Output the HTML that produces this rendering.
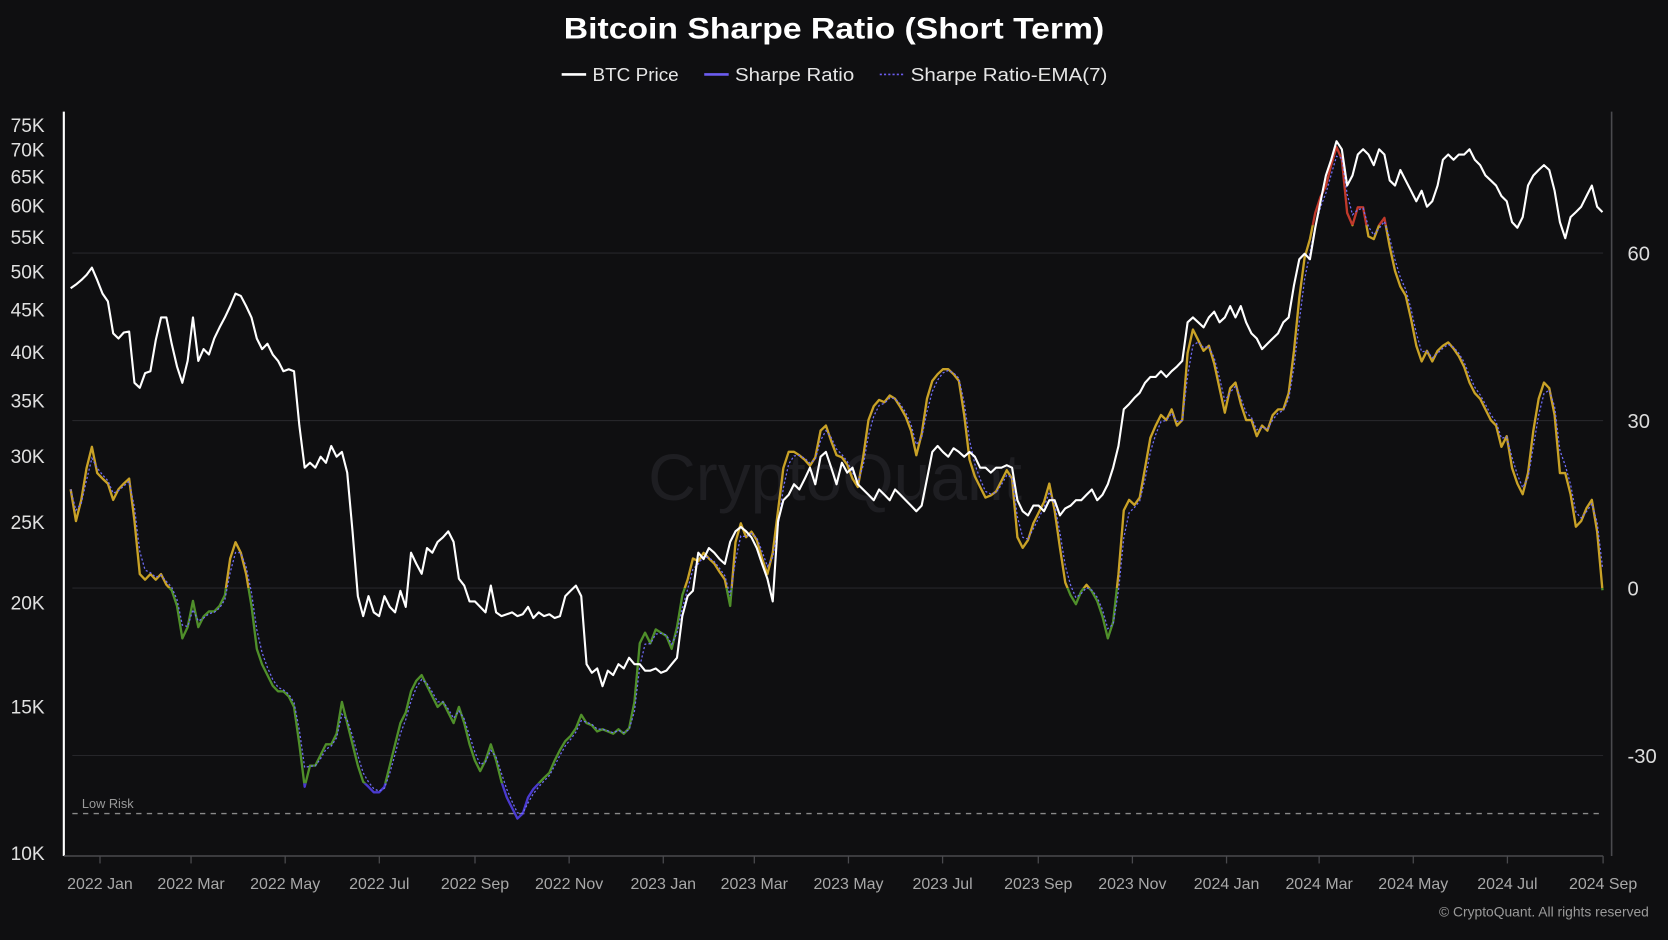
<!DOCTYPE html>
<html><head><meta charset="utf-8"><style>
html,body{margin:0;padding:0;background:#0f0f11;}
svg{display:block;}
text{font-family:"Liberation Sans",sans-serif;}
</style></head><body>
<svg id="chart" width="1668" height="940" viewBox="0 0 1568 884" preserveAspectRatio="none" xmlns="http://www.w3.org/2000/svg">
<rect x="0" y="0" width="1568" height="884" fill="#0f0f11"/>
<text x="784" y="36" text-anchor="middle" font-size="28" font-weight="bold" fill="#ffffff" textLength="508" lengthAdjust="spacingAndGlyphs">Bitcoin Sharpe Ratio (Short Term)</text>
<g font-size="17" fill="#e6e6e6">
 <g><line x1="528" y1="70" x2="551" y2="70" stroke="#fff" stroke-width="2.5"/><text x="557" y="76" textLength="81" lengthAdjust="spacingAndGlyphs">BTC Price</text></g>
 <g><line x1="662" y1="70" x2="685" y2="70" stroke="#6b5cf0" stroke-width="2.5"/><text x="691" y="76" textLength="112" lengthAdjust="spacingAndGlyphs">Sharpe Ratio</text></g>
 <g><line x1="827" y1="70" x2="850" y2="70" stroke="#6b5cf0" stroke-width="1.5" stroke-dasharray="2,2"/><text x="856" y="76" textLength="185" lengthAdjust="spacingAndGlyphs">Sharpe Ratio-EMA(7)</text></g>
</g>
<text x="785" y="470" text-anchor="middle" font-size="62" fill="#1e1e22">CryptoQuant</text>
<g id="grid"></g>
<g id="axes"></g>
<g id="series"></g>
<text x="1550" y="862" text-anchor="end" font-size="13" fill="#9a9a9a">© CryptoQuant. All rights reserved</text>
</svg>
<script>
const startDate = "2021-12-13";
const stepDays = 3.4466;
const priceK = [
47.8,48.3,48.9,49.6,50.6,48.9,47.1,46.1,42.2,41.6,42.3,42.4,36.8,36.3,37.8,38.0,41.4,44.1,44.1,41.0,
38.5,36.8,39.1,44.1,39.1,40.4,39.8,41.6,42.9,44.1,45.5,47.1,46.8,45.5,44.1,41.6,40.4,41.0,39.8,39.1,
38.0,38.2,38.0,32.7,29.1,29.5,29.1,30.0,29.5,30.9,30.0,30.4,28.7,24.4,20.4,19.3,20.4,19.5,19.3,20.4,
19.8,19.5,20.7,19.8,23.0,22.3,21.7,23.3,23.0,23.7,24.0,24.4,23.7,21.4,21.0,20.1,20.1,19.8,19.5,21.0,
19.5,19.3,19.4,19.5,19.3,19.4,19.8,19.2,19.5,19.3,19.4,19.2,19.3,20.4,20.7,21.0,20.4,16.9,16.5,16.7,
15.9,16.6,16.4,16.9,16.7,17.2,16.9,16.9,16.6,16.6,16.7,16.5,16.6,16.9,17.2,19.3,20.4,20.7,23.0,22.6,
23.3,23.0,22.6,22.3,23.7,24.4,24.7,24.4,24.0,23.3,22.3,21.4,20.1,25.1,26.6,27.0,27.8,27.4,28.2,29.1,
27.8,30.0,30.4,29.1,27.8,29.5,28.7,29.1,27.8,27.4,27.0,26.6,27.4,27.0,26.6,27.4,27.0,26.6,26.2,25.8,
26.2,28.2,30.4,30.9,30.4,30.0,30.7,30.4,30.0,30.4,30.0,29.1,29.1,28.7,29.1,29.1,29.3,29.1,26.6,25.8,
25.5,26.2,26.2,25.8,26.6,26.6,25.5,26.0,26.2,26.6,26.6,27.0,27.4,26.6,27.0,27.8,29.1,30.9,34.2,34.7,
35.3,35.8,36.8,37.4,37.4,38.0,37.4,38.0,38.5,39.1,43.5,44.1,43.5,42.9,44.1,44.8,43.5,44.1,45.5,44.1,
45.5,43.5,42.2,41.6,40.4,41.0,41.6,42.2,43.5,44.1,48.2,51.8,52.6,51.8,56.5,60.8,65.3,68.2,71.8,70.2,
63.5,65.3,69.2,70.2,69.2,67.2,70.2,69.2,64.4,63.5,66.3,64.4,62.6,60.8,62.6,59.9,60.8,63.5,68.2,69.2,
68.2,69.2,69.2,70.2,68.2,67.2,65.3,64.4,63.5,61.7,60.8,57.4,56.5,58.2,63.5,65.3,66.3,67.2,66.3,62.6,
57.4,54.9,58.2,59.0,59.9,61.7,63.5,59.9,59.0
];
const sharpe = [
17.7,12,15.8,21.5,25.3,20.6,19.6,18.7,15.8,17.7,18.7,19.6,12,2.5,1.5,2.5,1.5,2.5,0.6,-0.4,
-3.2,-9,-7,-2.3,-7,-5.1,-4.2,-4.2,-3.2,-1.3,5.3,8.2,6.3,2.5,-3.2,-10.9,-13.7,-15.6,-17.5,-18.5,
-18.5,-19.4,-21.3,-28,-35.6,-31.8,-31.8,-29.9,-28,-28,-26.1,-20.4,-24.2,-28,-31.8,-34.7,-35.6,-36.6,-36.6,-35.6,
-31.8,-28,-24.2,-22.3,-18.5,-16.6,-15.6,-17.5,-19.4,-21.3,-20.4,-22.3,-24.2,-21.3,-24.2,-28,-30.9,-32.8,-30.9,-28,
-30.9,-34.7,-37.5,-39.4,-41.3,-40.4,-37.5,-36,-35,-34,-33.1,-30.9,-29,-27.4,-26.5,-25.1,-22.7,-24.2,-24.6,-25.7,
-25.3,-25.7,-26.1,-25.3,-26.1,-25.1,-20.4,-9.9,-8,-9.9,-7.4,-8,-8.6,-10.9,-7,-1.3,1.5,5.3,4.8,6.3,
5.3,4.4,2.9,1.5,-3.2,8.2,11.6,9.1,10.1,8.6,5.3,2.5,6.3,13.9,21.5,24.4,24.4,23.8,23,21.9,
23.4,28.2,29.1,26.3,23.8,23.4,22.1,19.6,18.1,23.4,30.1,32.6,33.7,33.3,34.5,33.9,32.4,30.7,28.2,23.8,
27.6,33.9,37.1,38.3,39.2,39.2,38.3,37.1,31,23,20,18.1,16.2,16.6,17.3,19.2,21.1,19.6,9.1,7.2,
8.6,11.6,13.5,15.4,18.7,13.9,7.2,1,-1.3,-2.9,-0.6,0.6,-0.6,-2.3,-5.1,-9,-6.1,2.5,13.9,15.8,
14.9,16.2,21.5,26.9,29.1,31,30.1,32,29.1,30.1,42.1,46.3,44.4,42.5,43.4,40.2,35.8,31.4,35.8,36.8,
33,30.1,30.1,27.2,29.1,28.2,31,32,32,34.9,42.5,52,59.2,62.5,67.2,70.1,72,75.8,79,76.8,
67.2,65,68.2,68.2,63,62.5,65,66.3,61.1,56.8,54,52.4,48.2,43.4,40.6,42.5,40.6,42.5,43.4,44,
42.9,41.5,39.6,36.8,34.9,33.9,32,30.1,29.1,25.3,27.2,21.5,18.7,16.8,20.6,28.2,33.9,36.8,35.8,31,
20.6,20.6,16.8,11,12,14.3,15.8,10.1,-0.4
];
const leftTicks = [75,70,65,60,55,50,45,40,35,30,25,20,15,10];
const rightTicks = [60,30,0,-30];
const monthLabels = ["2022 Jan","2022 Mar","2022 May","2022 Jul","2022 Sep","2022 Nov","2023 Jan","2023 Mar","2023 May","2023 Jul","2023 Sep","2023 Nov","2024 Jan","2024 Mar","2024 May","2024 Jul","2024 Sep"];
const monthDates = ["2022-01-01","2022-03-01","2022-05-01","2022-07-01","2022-09-01","2022-11-01","2023-01-01","2023-03-01","2023-05-01","2023-07-01","2023-09-01","2023-11-01","2024-01-01","2024-03-01","2024-05-01","2024-07-01","2024-09-01"];
const lowRiskLevel = -40.4;

const NS="http://www.w3.org/2000/svg";
const DAY=86400000, T0=Date.parse("2022-01-01");
function xOfDate(s){return 94+(Date.parse(s)-T0)/DAY*1.4507;}
function xOfIndex(i){return xOfDate(startDate)+i*stepDays*1.4507;}
function yPrice(k){return 803-340*Math.log(k/10);}
function ySharpe(v){return 553-v*5.25;}
function mk(tag,attrs,parent){const e=document.createElementNS(NS,tag);for(const k in attrs)e.setAttribute(k,attrs[k]);parent.appendChild(e);return e;}
const grid=document.getElementById('grid'),axes=document.getElementById('axes'),series=document.getElementById('series');

rightTicks.forEach(v=>{
 const l=mk('line',{x1:68,x2:1507,y1:ySharpe(v),y2:ySharpe(v),stroke:'#26262a','stroke-width':1},grid);
 
 
 const t=mk('text',{x:1530,y:ySharpe(v)+7,'font-size':19,fill:'#dcdcdc'},axes);t.textContent=v;
 
 
});
const lr=mk('line',{x1:68,x2:1507,y1:ySharpe(lowRiskLevel),y2:ySharpe(lowRiskLevel),stroke:'#8a8a8a','stroke-width':1.2,'stroke-dasharray':'5,5'},grid);


const lrt=mk('text',{x:77,y:ySharpe(lowRiskLevel)-5,'font-size':12,fill:'#9a9a9a'},grid);lrt.textContent='Low Risk';



leftTicks.forEach(k=>{
 const t=mk('text',{x:10,y:yPrice(k)+6,'font-size':18,fill:'#e0e0e0'},axes);t.textContent=k+'K';
 
 
});
const la=mk('line',{x1:60,x2:60,y1:105,y2:805,stroke:'#ffffff','stroke-width':2},axes);


const ra=mk('line',{x1:1515,x2:1515,y1:105,y2:805,stroke:'#4a4a4e','stroke-width':1.5},axes);


const ba=mk('line',{x1:60,x2:1507,y1:805,y2:805,stroke:'#4a4a4e','stroke-width':1.5},axes);


monthDates.forEach((d,i)=>{
 const x=xOfDate(d);
 const tk=mk('line',{x1:x,x2:x,y1:805,y2:812,stroke:'#4a4a4e','stroke-width':1.2},axes);
 
 
 const t=mk('text',{x:x,y:836,'font-size':15,fill:'#a8a8a8','text-anchor':'middle'},axes);t.textContent=monthLabels[i];
 
 
});

function pathOf(arr,yf){return arr.map((v,i)=>(i?'L':'M')+xOfIndex(i).toFixed(1)+','+yf(v).toFixed(1)).join('');}

// clip bands for sharpe colouring
const defs=mk('defs',{},series);
const bands=[['clip-red',0,ySharpe(65),'#c0392b'],['clip-gold',ySharpe(65),ySharpe(0),'#c9a227'],['clip-green',ySharpe(0),ySharpe(-35),'#4f8f2a'],['clip-purple',ySharpe(-35),884,'#4a3ad0']];
bands.forEach(b=>{const c=mk('clipPath',{id:b[0]},defs);mk('rect',{x:0,y:b[1],width:1568,height:b[2]-b[1]},c);});
const sd=pathOf(sharpe,ySharpe);
bands.forEach(b=>{
 const p=mk('path',{d:sd,fill:'none',stroke:b[3],'stroke-width':2.2,'stroke-linejoin':'round','clip-path':'url(#'+b[0]+')'},series);
 
 
});
// EMA(7) on samples
const a=2/(7/stepDays+1);let e=sharpe[0];const ema=sharpe.map(v=>(e=a*v+(1-a)*e));
const ep=mk('path',{d:pathOf(ema,ySharpe),fill:'none',stroke:'#6f6cf5','stroke-width':1.2,'stroke-dasharray':'2,2'},series);


const pp=mk('path',{d:pathOf(priceK,yPrice),fill:'none',stroke:'#ffffff','stroke-width':2,'stroke-linejoin':'round'},series);


</script>
</body></html>
